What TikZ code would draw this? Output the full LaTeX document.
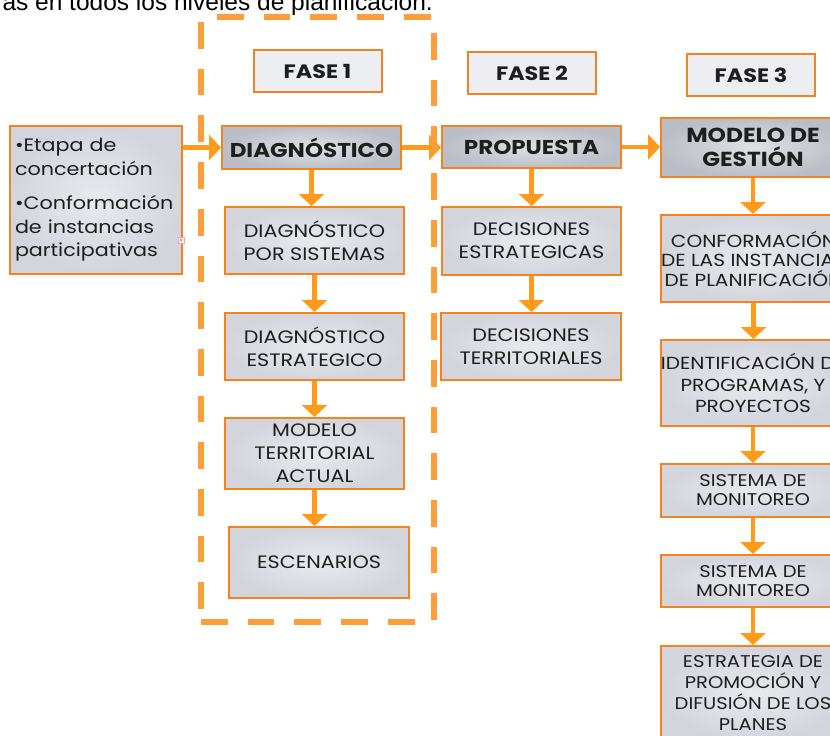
\documentclass[tikz,border=0pt]{standalone}
\usepackage{fontspec}
\setmainfont{Poppins}[FakeStretch=1.15]
\newfontfamily\captionfont{Liberation Sans}
\usepackage{xcolor}
\usepackage{tikz}
\usetikzlibrary{arrows.meta}
\definecolor{edge_orange}{HTML}{F5821F}
\definecolor{arrow_orange}{HTML}{FF9A1A}
\definecolor{dash_orange}{HTML}{FF9D3B}
\definecolor{box_light}{HTML}{E8EAEE}
\definecolor{box_gray}{HTML}{D2D5DC}
\definecolor{head_light}{HTML}{DFE1E5}
\definecolor{head_gray}{HTML}{BBBEC6}
\definecolor{fase_fill}{HTML}{ECEEF1}
\definecolor{text_dark}{HTML}{1E1E1E}
\definecolor{mark_pink}{HTML}{F4A3AC}
\tikzset{
    tnode/.style = {align=center, inner sep=0pt, text centered, text=text_dark},
    step_box/.style = {tnode, draw=edge_orange, line width=2pt, inner color=box_light, outer color=box_gray, font=\fontsize{18}{23}\selectfont},
    head_box/.style = {step_box, inner color=head_light, outer color=head_gray, font=\bfseries\fontsize{20}{24}\selectfont},
    fase_box/.style = {tnode, draw=edge_orange, line width=2pt, fill=fase_fill, minimum width=128pt, minimum height=42pt, font=\bfseries\fontsize{19.4}{22}\selectfont},
    col3_box/.style = {step_box, minimum width=184pt, font=\fontsize{17}{19}\selectfont},
    flow/.style = {draw=arrow_orange, line width=4.5pt, ->},
    fase_frame/.style = {draw=dash_orange, line width=6.5pt, dash pattern=on 26.7pt off 20pt}
}

\begin{document}
\begin{tikzpicture}[x=1pt, y=-1pt, >={Triangle[width=25pt,length=12pt]}]
    \useasboundingbox (0,0) rectangle (830,736);
    \node[anchor=base west, font=\captionfont\fontsize{24.5}{28}\selectfont] (top_line) at (-1,10.5) {as en todos los niveles de planificación.};

    \node[fase_box] (fase_1) at (317.5,71) {FASE 1};
    \node[fase_box] (fase_2) at (532,73) {FASE 2};
    \node[fase_box] (fase_3) at (751,75) {FASE 3};

    \node[step_box, minimum width=172pt, minimum height=148pt, align=left, text width=162pt, font=\fontsize{18}{23.5}\selectfont]
        (etapas) at (96,200) {\textbullet Etapa de\\concertación\\[11pt]\textbullet Conformación\\de instancias\\participativas};
    \node[draw=mark_pink, fill=white, line width=1pt, minimum size=6pt, inner sep=0pt] (sel_mark) at (181,240) {};
    \fill[mark_pink!70!red] (sel_mark) circle (1.3pt);

    % fase 1
    \node[head_box, minimum width=179pt, minimum height=43pt] (diag) at (311.5,147.5) {DIAGNÓSTICO};
    \node[step_box, minimum width=179pt, minimum height=67pt] (diag_sis) at (314.5,240.5) {DIAGNÓSTICO\\POR SISTEMAS};
    \node[step_box, minimum width=179pt, minimum height=67pt] (diag_est) at (314.5,346.5) {DIAGNÓSTICO\\ESTRATEGICO};
    \node[step_box, minimum width=179pt, minimum height=71pt] (modelo_terr) at (314.5,453.5) {MODELO\\TERRITORIAL\\ACTUAL};
    \node[step_box, minimum width=180pt, minimum height=71pt] (escenarios) at (319,562.5) {ESCENARIOS};

    % fase 2
    \node[head_box, minimum width=179pt, minimum height=42pt] (propuesta) at (531.5,147) {PROPUESTA};
    \node[step_box, minimum width=179pt, minimum height=68pt] (dec_est) at (531.5,241) {DECISIONES\\ESTRATEGICAS};
    \node[step_box, minimum width=180pt, minimum height=67pt] (dec_terr) at (531,346.5) {DECISIONES\\TERRITORIALES};

    % fase 3
    \node[head_box, minimum width=184pt, minimum height=59pt, font=\bfseries\fontsize{20.3}{24}\selectfont] (gestion) at (753,147.5) {MODELO DE\\GESTIÓN};
    \node[col3_box, minimum height=87pt, font=\fontsize{17.5}{19.5}\selectfont] (conformacion) at (753.5,258.5) {CONFORMACIÓN\\DE LAS INSTANCIAS\\DE PLANIFICACIÓN};
    \node[col3_box, minimum height=86pt, font=\fontsize{17.5}{21.5}\selectfont] (identificacion) at (753,383) {IDENTIFICACIÓN DE\\PROGRAMAS, Y\\PROYECTOS};
    \node[col3_box, minimum height=53pt] (monitoreo_1) at (753,490.5) {SISTEMA DE\\MONITOREO};
    \node[col3_box, minimum height=52pt] (monitoreo_2) at (753,581) {SISTEMA DE\\MONITOREO};
    \node[col3_box, minimum height=94pt, font=\fontsize{17}{21}\selectfont] (estrategia) at (753,693) {ESTRATEGIA DE\\PROMOCIÓN Y\\DIFUSIÓN DE LOS\\PLANES};

    \draw[flow] (etapas.east |- diag) -- (diag.west);
    \draw[flow] (diag.east) -- (diag.east -| propuesta.west);
    \draw[flow] (propuesta.east) -- (propuesta.east -| gestion.west);
    \draw[flow] (diag.south) -- (diag.south |- diag_sis.north);
    \draw[flow] (diag_sis.south) -- (diag_sis.south |- diag_est.north);
    \draw[flow] (diag_est.south) -- (diag_est.south |- modelo_terr.north);
    \draw[flow] (modelo_terr.south) -- (modelo_terr.south |- escenarios.north);
    \draw[flow] (propuesta.south) -- (propuesta.south |- dec_est.north);
    \draw[flow] (dec_est.south) -- (dec_est.south |- dec_terr.north);
    \draw[flow] (gestion.south) -- (gestion.south |- conformacion.north);
    \draw[flow] (conformacion.south) -- (conformacion.south |- identificacion.north);
    \draw[flow] (identificacion.south) -- (identificacion.south |- monitoreo_1.north);
    \draw[flow] (monitoreo_1.south) -- (monitoreo_1.south |- monitoreo_2.north);
    \draw[flow] (monitoreo_2.south) -- (monitoreo_2.south |- estrategia.north);

    % marco de la fase 1
    \draw[fase_frame, dash phase=30.7pt] (201,17) -- (434,17);
    \draw[fase_frame, dash phase=30.7pt] (434,17) -- (434,622);
    \draw[fase_frame, dash phase=41.7pt] (201,17) -- (201,622);
    \draw[fase_frame] (201,622) -- (434,622);
\end{tikzpicture}
\end{document}
